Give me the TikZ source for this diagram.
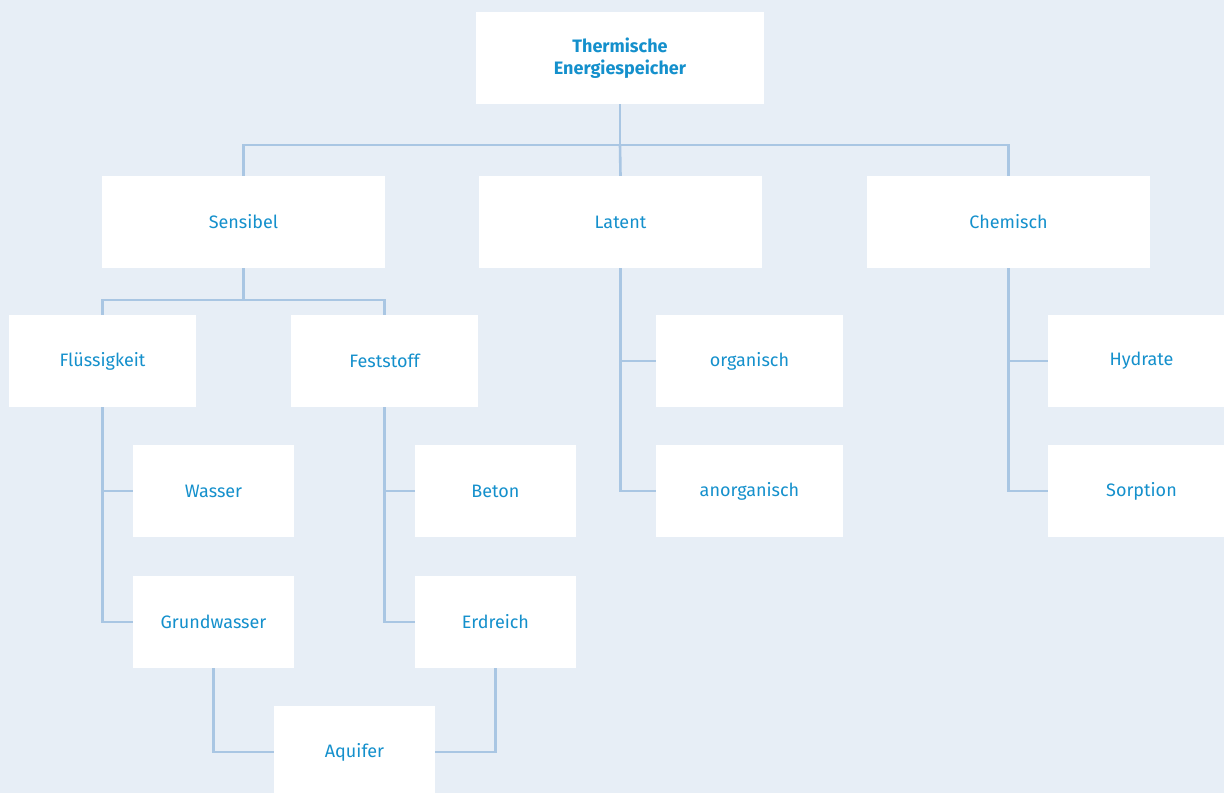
\documentclass[tikz,border=0pt]{standalone}
\usepackage{fontspec}
\setmainfont{Fira Sans}
\usepackage{tikz}
\usetikzlibrary{positioning}
\usepackage{xcolor}
\definecolor{bgblue}{HTML}{E7EEF6}
\definecolor{linkblue}{HTML}{A9C6E3}
\definecolor{textblue}{HTML}{1490CC}

\begin{document}
\begin{tikzpicture}[x=1pt, y=-1pt,
    box/.style={fill=white, minimum height=92pt, inner sep=0pt, text=textblue, font=\fontsize{18}{22}\selectfont, align=center},
    wide/.style={box, minimum width=283pt},
    mid/.style={box, minimum width=187pt},
    small/.style={box, minimum width=161pt},
    link/.style={draw=linkblue, line width=2.6pt}]
    \fill[bgblue] (0,0) rectangle (1224,793);
    \clip (0,0) rectangle (1224,793);
    \useasboundingbox (0,0) rectangle (1224,793);

    \node[box, minimum width=288pt, font=\fontsize{18}{22}\selectfont\bfseries] (top) at (620,58) {Thermische\\Energiespeicher};
    \node[wide] (sens) at (243.5,222) {Sensibel};
    \node[wide] (lat) at (620.5,222) {Latent};
    \node[wide] (chem) at (1008.5,222) {Chemisch};
    \node[mid] (fluess) at (102.5,361) {Flüssigkeit};
    \node[mid] (fest) at (384.5,361) {Feststoff};
    \node[mid] (org) at (749.5,361) {organisch};
    \node[mid] (anorg) at (749.5,491) {anorganisch};
    \node[mid] (hyd) at (1141.5,361) {Hydrate};
    \node[mid] (sorp) at (1141.5,491) {Sorption};
    \node[small] (wasser) at (213.5,491) {Wasser};
    \node[small] (grundw) at (213.5,622) {Grundwasser};
    \node[small] (beton) at (495.5,491) {Beton};
    \node[small] (erd) at (495.5,622) {Erdreich};
    \node[small] (aqu) at (354.5,752) {Aquifer};

    \coordinate (j1) at (620,145);
    \coordinate (j2) at (243.5,300);
    \draw[link] (top.south) -- (j1);
    \draw[link] (sens.north) |- (j1) -| (chem.north);
    \draw[link] (j1) -- (lat.north);
    \draw[link] (sens.south) -- (j2);
    \draw[link] (fluess.north) |- (j2) -| (fest.north);
    \draw[link] (lat.south) |- (org.west);
    \draw[link] (lat.south) |- (anorg.west);
    \draw[link] (chem.south) |- (hyd.west);
    \draw[link] (chem.south) |- (sorp.west);
    \draw[link] (fluess.south) |- (wasser.west);
    \draw[link] (fluess.south) |- (grundw.west);
    \draw[link] (fest.south) |- (beton.west);
    \draw[link] (fest.south) |- (erd.west);
    \draw[link] (grundw.south) |- (aqu.west);
    \draw[link] (erd.south) |- (aqu.east);
\end{tikzpicture}
\end{document}
